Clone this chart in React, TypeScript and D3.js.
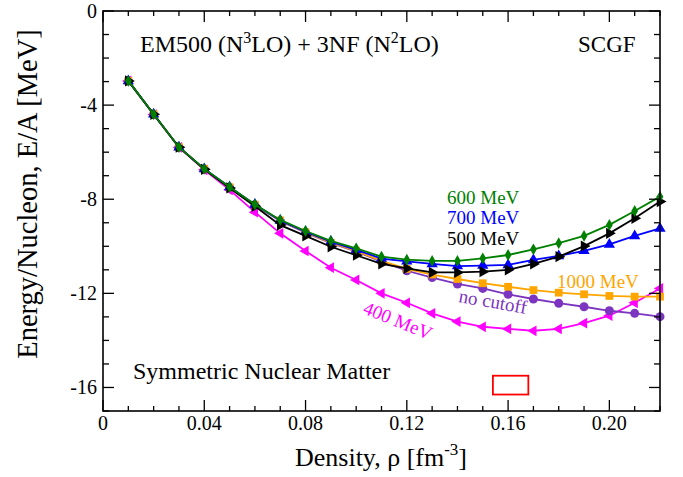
import { useEffect, useRef } from "react";
import * as d3 from "d3";

// density grid (fm^-3)
const density = [
  0.01, 0.02, 0.03, 0.04, 0.05, 0.06, 0.07, 0.08, 0.09, 0.1, 0.11,
  0.12, 0.13, 0.14, 0.15, 0.16, 0.17, 0.18, 0.19, 0.2, 0.21, 0.22,
];

// E/A (MeV) per cutoff
const e400 = [-2.97, -4.4, -5.8, -6.75, -7.6, -8.55, -9.45, -10.2, -10.91, -11.43, -12.0, -12.4, -12.85, -13.2, -13.42, -13.51, -13.59, -13.51, -13.27, -12.95, -12.4, -11.79];
const e500 = [-2.97, -4.39, -5.79, -6.73, -7.52, -8.3, -9.1, -9.56, -10.02, -10.38, -10.75, -10.94, -11.11, -11.11, -11.08, -11.0, -10.75, -10.44, -9.99, -9.45, -8.81, -8.1];
const e600 = [-2.97, -4.39, -5.79, -6.71, -7.48, -8.22, -8.88, -9.35, -9.77, -10.09, -10.44, -10.57, -10.62, -10.62, -10.51, -10.37, -10.13, -9.87, -9.56, -9.09, -8.5, -7.89];
const e700 = [-2.97, -4.39, -5.79, -6.71, -7.48, -8.22, -8.9, -9.38, -9.8, -10.15, -10.52, -10.64, -10.75, -10.84, -10.82, -10.79, -10.58, -10.41, -10.19, -9.92, -9.56, -9.24];
const e1000 = [-2.97, -4.39, -5.79, -6.71, -7.49, -8.23, -8.9, -9.4, -9.85, -10.2, -10.62, -10.96, -11.2, -11.39, -11.57, -11.72, -11.86, -11.97, -12.04, -12.11, -12.14, -12.14];
const eNoCut = [-2.97, -4.39, -5.79, -6.72, -7.5, -8.25, -8.92, -9.42, -9.87, -10.22, -10.65, -11.04, -11.33, -11.6, -11.79, -12.04, -12.24, -12.42, -12.57, -12.74, -12.85, -12.99];

const xTicks = [0, 0.04, 0.08, 0.12, 0.16, 0.2];
const xTickLabels = ["0", "0.04", "0.08", "0.12", "0.16", "0.20"];
const yTicks = [0, -4, -8, -12, -16];
const yTickLabels = ["0", "-4", "-8", "-12", "-16"];

// empirical saturation box
const satRho = [0.154, 0.168];
const satEnergy = [-15.5, -16.3];

const W = 683;
const H = 477;
const FONT = "'Liberation Serif', 'Times New Roman', serif";

const App = () => {
  const svgRef = useRef<SVGSVGElement>(null);

  useEffect(() => {
    const svg = d3.select(svgRef.current);
    svg.selectAll("*").remove();

    const x = d3.scaleLinear().domain([0, 0.22]).range([103, 660]);
    const y = d3.scaleLinear().domain([-17, 0]).range([411, 11]);

    const series = [
      { name: "400", values: e400, color: "#ff00ff", symbol: d3.symbolTriangle, rot: -90, size: 50 },
      { name: "nocut", values: eNoCut, color: "#7b35c0", symbol: d3.symbolCircle, rot: 0, size: 64 },
      { name: "1000", values: e1000, color: "#ffa500", symbol: d3.symbolSquare, rot: 0, size: 60 },
      { name: "700", values: e700, color: "#0000ff", symbol: d3.symbolTriangle, rot: 0, size: 55 },
      { name: "500", values: e500, color: "#000000", symbol: d3.symbolTriangle, rot: 90, size: 55 },
      { name: "600", values: e600, color: "#008000", symbol: d3.symbolDiamond, rot: 0, size: 40 },
    ];

    const line = d3
      .line<number>()
      .x((_, i) => x(density[i]))
      .y((d) => y(d));

    const plot = svg.append("g");

    series.forEach((s) => {
      plot
        .append("path")
        .attr("d", line(s.values))
        .attr("fill", "none")
        .attr("stroke", s.color)
        .attr("stroke-width", 1.8);

      plot
        .selectAll(null)
        .data(s.values)
        .enter()
        .append("path")
        .attr("d", d3.symbol(s.symbol, s.size)())
        .attr("transform", (d, i) => `translate(${x(density[i])},${y(d)}) rotate(${s.rot})`)
        .attr("fill", s.color);
    });

    // saturation box
    svg
      .append("rect")
      .attr("x", x(satRho[0]))
      .attr("y", y(satEnergy[0]))
      .attr("width", x(satRho[1]) - x(satRho[0]))
      .attr("height", y(satEnergy[1]) - y(satEnergy[0]))
      .attr("fill", "none")
      .attr("stroke", "#ff0000")
      .attr("stroke-width", 1.8);

    // frame
    const [x0, x1] = x.range();
    const [y0, y1] = y.range();
    svg
      .append("rect")
      .attr("x", x0)
      .attr("y", y1)
      .attr("width", x1 - x0)
      .attr("height", y0 - y1)
      .attr("fill", "none")
      .attr("stroke", "black")
      .attr("stroke-width", 1.6);

    // ticks, inward on all sides
    const ticks = svg.append("g").attr("stroke", "black").attr("stroke-width", 1.3);
    d3.range(0, 23).forEach((k) => {
      const v = k / 100;
      const len = k % 4 === 0 ? 11 : 5;
      ticks.append("line").attr("x1", x(v)).attr("x2", x(v)).attr("y1", y0).attr("y2", y0 - len);
      ticks.append("line").attr("x1", x(v)).attr("x2", x(v)).attr("y1", y1).attr("y2", y1 + len);
    });
    d3.range(0, 18).forEach((k) => {
      const v = -k;
      const len = k % 4 === 0 ? 11 : 6;
      ticks.append("line").attr("y1", y(v)).attr("y2", y(v)).attr("x1", x0).attr("x2", x0 + len);
      ticks.append("line").attr("y1", y(v)).attr("y2", y(v)).attr("x1", x1).attr("x2", x1 - len);
    });

    const txt = svg.append("g").attr("font-family", FONT).attr("fill", "black");

    txt
      .selectAll(null)
      .data(xTicks)
      .enter()
      .append("text")
      .attr("x", (d) => x(d))
      .attr("y", 430)
      .attr("text-anchor", "middle")
      .attr("font-size", 20)
      .text((d, i) => xTickLabels[i]);

    txt
      .selectAll(null)
      .data(yTicks)
      .enter()
      .append("text")
      .attr("x", 97)
      .attr("y", (d) => y(d) + 7)
      .attr("text-anchor", "end")
      .attr("font-size", 20)
      .text((d, i) => yTickLabels[i]);

    // axis titles
    const xt = txt
      .append("text")
      .attr("x", 381)
      .attr("y", 466)
      .attr("text-anchor", "middle")
      .attr("font-size", 26);
    xt.append("tspan").text("Density, ρ [fm");
    xt.append("tspan").attr("font-size", 17).attr("dy", -11).text("-3");
    xt.append("tspan").attr("dy", 11).text("]");

    txt
      .append("text")
      .attr("transform", `translate(37,194) rotate(-90)`)
      .attr("text-anchor", "middle")
      .attr("font-size", 28.5)
      .text("Energy/Nucleon, E/A [MeV]");

    // header
    const title = txt.append("text").attr("x", 140).attr("y", 52).attr("font-size", 24);
    title.append("tspan").text("EM500 (N");
    title.append("tspan").attr("font-size", 16).attr("dy", -9).text("3");
    title.append("tspan").attr("dy", 9).text("LO) + 3NF (N");
    title.append("tspan").attr("font-size", 16).attr("dy", -9).text("2");
    title.append("tspan").attr("dy", 9).text("LO)");

    txt.append("text").attr("x", 578).attr("y", 52).attr("font-size", 23).text("SCGF");

    txt.append("text").attr("x", 133).attr("y", 379).attr("font-size", 24).text("Symmetric Nuclear Matter");

    // curve labels
    const lab = (t: string, c: string, px: number, py: number, rot: number) =>
      txt
        .append("text")
        .attr("transform", `translate(${px},${py}) rotate(${rot})`)
        .attr("font-size", 19)
        .attr("fill", c)
        .text(t);

    lab("600 MeV", "#008000", 447, 204, 0);
    lab("700 MeV", "#0000ff", 447, 224, 0);
    lab("500 MeV", "#000000", 447, 245, 0);
    lab("1000 MeV", "#ffa500", 557, 288, 0);
    lab("no cutoff", "#7b35c0", 458, 302, 10);
    lab("400 MeV", "#ff00ff", 362, 313, 22);
  }, []);

  return (
    <svg
      ref={svgRef}
      width={W}
      height={H}
      style={{ position: "absolute", left: 0, top: 0, background: "white" }}
    ></svg>
  );
};

export default App;
